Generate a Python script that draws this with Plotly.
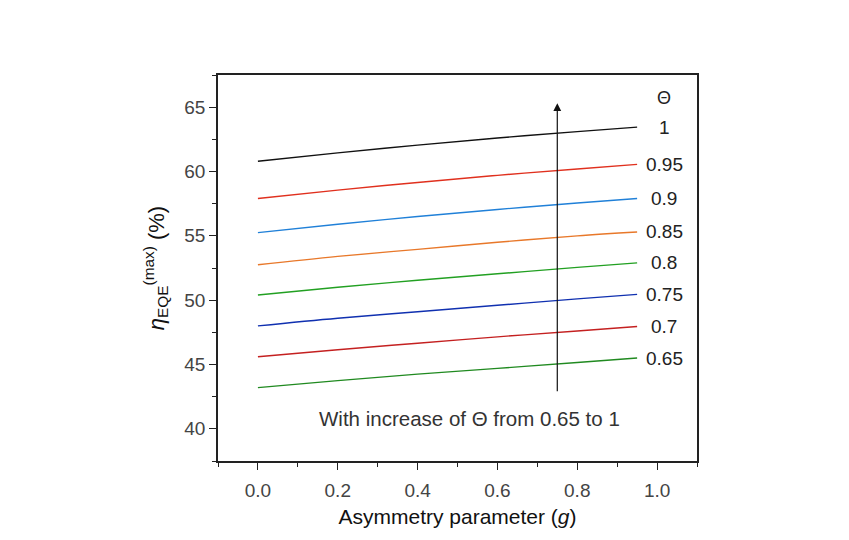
import plotly.graph_objects as go

g = [0.0, 0.2, 0.4, 0.6, 0.8, 0.95]
theta_labels = ["1", "0.95", "0.9", "0.85", "0.8", "0.75", "0.7", "0.65"]
eta = {
    "1":    [60.8, 61.45, 62.05, 62.6, 63.1, 63.45],
    "0.95": [57.9, 58.55, 59.15, 59.7, 60.2, 60.55],
    "0.9":  [55.25, 55.9, 56.5, 57.05, 57.55, 57.9],
    "0.85": [52.75, 53.4, 53.95, 54.5, 55.0, 55.3],
    "0.8":  [50.4, 51.0, 51.55, 52.05, 52.55, 52.9],
    "0.75": [48.0, 48.6, 49.1, 49.6, 50.1, 50.45],
    "0.7":  [45.6, 46.15, 46.65, 47.15, 47.6, 47.95],
    "0.65": [43.2, 43.75, 44.25, 44.7, 45.15, 45.5],
}
colors = {
    "1": "#111111", "0.95": "#e0301e", "0.9": "#2080d8", "0.85": "#e8782a",
    "0.8": "#22a022", "0.75": "#1030b0", "0.7": "#c42020", "0.65": "#208a20",
}
arrow_x = 0.75
arrow_y = [42.8, 65.3]
label_x = 1.018

fig = go.Figure()
for t in theta_labels:
    fig.add_trace(go.Scatter(x=g, y=eta[t], mode="lines", line=dict(color=colors[t], width=1.4),
                             line_shape="spline", showlegend=False))
    fig.add_annotation(x=label_x, y=eta[t][-1], text=t, showarrow=False,
                       font=dict(size=19, color="#222"), xanchor="center", yanchor="middle")

fig.add_annotation(x=label_x, y=65.7, text="Θ", showarrow=False,
                   font=dict(size=18, color="#222"), xanchor="center", yanchor="middle")

fig.add_annotation(x=arrow_x, y=arrow_y[1], ax=arrow_x, ay=arrow_y[0], xref="x", yref="y",
                   axref="x", ayref="y", text="", showarrow=True, arrowhead=2, arrowsize=1.3,
                   arrowwidth=1.2, arrowcolor="#111")

fig.add_annotation(x=0.53, y=40.8, text="With increase of Θ from 0.65 to 1", showarrow=False,
                   font=dict(size=20.5, color="#333"), xanchor="center", yanchor="middle")

fig.update_layout(
    width=849, height=540,
    margin=dict(l=210, r=160, t=67, b=87),
    plot_bgcolor="white", paper_bgcolor="white",
    font=dict(family="Liberation Sans, Arial, sans-serif", size=19, color="#333"),
)
fig.update_xaxes(
    range=[-0.1, 1.1], tickvals=[0, 0.2, 0.4, 0.6, 0.8, 1.0],
    ticktext=["0.0", "0.2", "0.4", "0.6", "0.8", "1.0"],
    showgrid=False, zeroline=False, showline=True, linecolor="#222", linewidth=1.5, mirror=True,
    ticks="outside", ticklen=7, tickcolor="#222", ticklabelstandoff=4,
    minor=dict(ticks="outside", dtick=0.1, tick0=0, ticklen=4, tickcolor="#222"),
    title=dict(text="Asymmetry parameter (<i>g</i>)", font=dict(size=21, color="#111"), standoff=10),
    tickfont=dict(size=19, color="#444"),
)
fig.update_yaxes(
    range=[37.5, 67.5], tickvals=[40, 45, 50, 55, 60, 65],
    showgrid=False, zeroline=False, showline=True, linecolor="#222", linewidth=1.5, mirror=True,
    ticks="outside", ticklen=7, tickcolor="#222",
    minor=dict(ticks="outside", dtick=2.5, tick0=40, ticklen=4, tickcolor="#222"),
    title=dict(text="<i>η</i><sub>EQE</sub><sup>(max)</sup> (%)", font=dict(size=22, color="#111"), standoff=14),
    tickfont=dict(size=19, color="#444"),
)

fig.write_html("out.html")
